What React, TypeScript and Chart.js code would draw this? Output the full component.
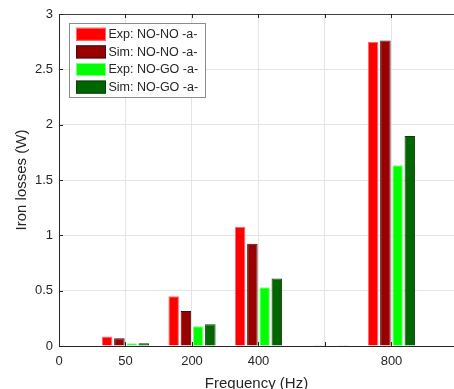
import React, { useEffect, useRef } from "react";
import { Chart, registerables } from "chart.js";

Chart.register(...registerables);

// x positions (index of frequency slot) and their tick labels
const freqLabels = ["0", "50", "200", "400", "", "800"];
const positions = [1, 2, 3, 4, 5];

// Iron losses (W)
const expNoNo = [0.085, 0.45, 1.078, 0.004, 2.75];
const simNoNo = [0.07, 0.316, 0.925, 0.003, 2.76];
const expNoGo = [0.025, 0.178, 0.53, 0.004, 1.633];
const simNoGo = [0.025, 0.196, 0.61, 0.003, 1.898];

const seriesLabels = ["Exp: NO-NO -a-", "Sim: NO-NO -a-", "Exp: NO-GO -a-", "Sim: NO-GO -a-"];
const seriesColors = ["#ff0000", "#990000", "#00ff00", "#006600"];
const seriesBorders = ["#ff6a6a", "#3c1010", "#80ff80", "#103a10"];

const FONT = 'Arial, "Liberation Sans", Helvetica, sans-serif';
const TEXT = "#262626";

const framePlugin = {
  id: "matlabFrame",
  afterDatasetsDraw(chart: any) {
    const { ctx, chartArea } = chart;
    const xs = chart.scales.x;
    const ys = chart.scales.y;
    ctx.save();
    // top box line
    ctx.strokeStyle = "#404040";
    ctx.lineWidth = 1;
    ctx.beginPath();
    ctx.moveTo(chartArea.left, chartArea.top + 0.5);
    ctx.lineTo(chartArea.right, chartArea.top + 0.5);
    ctx.stroke();
    // inward tick marks
    ctx.strokeStyle = TEXT;
    const tl = 4;
    xs.ticks.forEach((t: any) => {
      const px = Math.round(xs.getPixelForValue(t.value)) + 0.5;
      ctx.beginPath();
      ctx.moveTo(px, chartArea.bottom);
      ctx.lineTo(px, chartArea.bottom - tl);
      ctx.moveTo(px, chartArea.top);
      ctx.lineTo(px, chartArea.top + tl);
      ctx.stroke();
    });
    ys.ticks.forEach((t: any) => {
      const py = Math.round(ys.getPixelForValue(t.value)) + 0.5;
      ctx.beginPath();
      ctx.moveTo(chartArea.left, py);
      ctx.lineTo(chartArea.left + tl, py);
      ctx.stroke();
    });

    // legend box
    const bx = 69.5, by = 23.5, bw = 136, bh = 74;
    ctx.fillStyle = "#ffffff";
    ctx.fillRect(bx, by, bw, bh);
    ctx.strokeStyle = "#8c8c8c";
    ctx.lineWidth = 1;
    ctx.strokeRect(bx, by, bw, bh);
    ctx.font = `12.5px ${FONT}`;
    ctx.textBaseline = "middle";
    ctx.textAlign = "left";
    chart.data.datasets.forEach((ds: any, i: number) => {
      const cy = 34.3 + i * 17.6;
      ctx.fillStyle = ds.backgroundColor;
      ctx.fillRect(76, cy - 6.5, 30, 13);
      ctx.strokeStyle = ds.borderColor;
      ctx.strokeRect(76.5, cy - 6, 29, 12);
      ctx.fillStyle = TEXT;
      ctx.fillText(ds.label, 108.5, cy + 0.5);
    });
    ctx.restore();
  },
};

export default function App() {
  const canvasRef = useRef<HTMLCanvasElement | null>(null);

  useEffect(() => {
    document.body.style.margin = "0";
    document.body.style.overflow = "hidden";
    const canvas = canvasRef.current;
    if (!canvas) return;
    const series = [expNoNo, simNoNo, expNoGo, simNoGo];
    const chart = new Chart(canvas, {
      type: "bar",
      data: {
        datasets: series.map((vals, i) => ({
          label: seriesLabels[i],
          data: positions.map((p, j) => ({ x: p, y: vals[j] })),
          backgroundColor: seriesColors[i],
          borderColor: seriesBorders[i],
          borderWidth: 1,
          categoryPercentage: 0.735,
          barPercentage: 0.86,
        })),
      },
      options: {
        responsive: false,
        animation: false,
        layout: { padding: { top: 14, right: 0, left: 0, bottom: 0 } },
        plugins: {
          legend: { display: false },
          tooltip: { enabled: false },
        },
        scales: {
          x: {
            type: "linear",
            offset: false,
            min: 0,
            max: 5.94,
            afterFit: (s: any) => {
              s.height = 43;
            },
            ticks: {
              stepSize: 1,
              includeBounds: false,
              autoSkip: false,
              maxRotation: 0,
              padding: 8,
              color: TEXT,
              font: { family: FONT, size: 13 },
              callback: (v: any) => freqLabels[v] ?? "",
            },
            grid: { color: "#e4e4e4", drawTicks: false, lineWidth: 1, offset: false },
            border: { color: TEXT, width: 1 },
            title: {
              display: true,
              text: "Frequency (Hz)",
              color: TEXT,
              font: { family: FONT, size: 15 },
              padding: { top: 0, bottom: -3.5 },
            },
          },
          y: {
            min: 0,
            max: 3,
            afterFit: (s: any) => {
              s.width = 59;
            },
            ticks: {
              stepSize: 0.5,
              padding: 6,
              color: TEXT,
              font: { family: FONT, size: 13 },
              callback: (v: any) => String(v),
            },
            grid: { color: "#e4e4e4", drawTicks: false, lineWidth: 1 },
            border: { color: TEXT, width: 1 },
            title: {
              display: true,
              text: "Iron losses (W)",
              color: TEXT,
              font: { family: FONT, size: 15 },
              padding: { top: 13, bottom: 0 },
            },
          },
        },
      },
      plugins: [framePlugin],
    } as any);
    return () => chart.destroy();
  }, []);

  return (
    <div style={{ width: 454, height: 389, background: "#ffffff" }}>
      <canvas ref={canvasRef} width={454} height={389} />
    </div>
  );
}
